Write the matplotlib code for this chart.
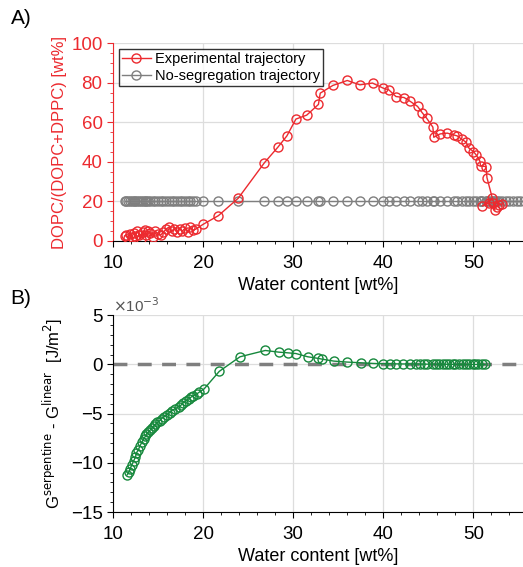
import matplotlib.pyplot as plt
import numpy as np

plt.rcParams['font.family'] = ['Liberation Sans', 'DejaVu Sans']

# panel A: experimental trajectory (water wt%, DOPC fraction wt%)
water_exp = [11.3, 11.5, 11.7, 11.9, 12.1, 12.3, 12.5, 12.7, 12.9, 13.1, 13.3, 13.5,
             13.7, 13.9, 14.1, 14.4, 14.7, 15.0, 15.3, 15.6, 15.9, 16.2, 16.5, 16.8,
             17.1, 17.4, 17.7, 18.0, 18.3, 18.6, 18.9, 19.2, 20.0, 21.7, 23.9, 26.8,
             28.3, 29.3, 30.3, 31.5, 32.8, 33.0, 34.4, 36.0, 37.4, 38.8, 40.0, 40.6,
             41.4, 42.3, 43.0, 43.8, 44.3, 44.8, 45.5, 45.6, 46.3, 47.1, 47.8, 48.2,
             48.7, 49.2, 49.5, 50.0, 50.3, 50.7, 50.8, 51.4, 51.5, 52.1, 51.0, 51.7,
             52.4, 52.2, 52.6, 52.8, 53.2]
dopc_exp = [2.5, 3.0, 1.5, 3.5, 2.0, 4.0, 2.5, 5.0, 3.0, 1.0, 4.5, 5.5,
            3.0, 5.0, 4.0, 2.0, 5.0, 3.5, 3.0, 4.5, 6.0, 7.0, 5.0, 6.0,
            4.5, 6.0, 5.0, 6.5, 4.5, 7.0, 5.5, 6.0, 8.4, 12.8, 21.6, 39.5,
            47.4, 53.1, 61.6, 63.6, 69.0, 74.7, 78.6, 81.1, 78.9, 79.8, 77.2, 76.4,
            73.0, 72.5, 70.5, 68.0, 64.9, 62.1, 57.5, 52.4, 54.1, 54.5, 53.6, 53.1,
            51.4, 49.9, 46.9, 45.2, 43.5, 40.5, 37.9, 37.6, 32.0, 21.6, 17.7, 19.1,
            15.7, 19.4, 17.4, 18.2, 18.7]

# panel A: no-segregation trajectory
water_noseg = sorted(water_exp + [53.6, 54.0, 54.4, 54.8, 55.2, 55.6])
dopc_noseg = [20.0] * len(water_noseg)

# panel B: energy difference (x 1e-3 J/m^2)
water_g = [11.6, 11.8, 11.9, 12.1, 12.3, 12.5, 12.6, 12.8, 13.0, 13.2, 13.4, 13.6,
           13.7, 13.9, 14.1, 14.3, 14.5, 14.7, 14.9, 15.2, 15.4, 15.7, 16.0, 16.3,
           16.5, 16.9, 17.3, 17.6, 17.8, 18.1, 18.4, 18.7, 18.9, 19.3, 19.6, 20.1,
           21.8, 24.1, 26.9, 28.4, 29.4, 30.3, 31.6, 32.8, 33.2, 34.5, 36.0, 37.5,
           38.9, 40.0, 40.7, 41.4, 42.2, 43.0, 43.6, 44.1, 44.5, 44.9, 45.5, 45.9,
           46.2, 46.6, 47.0, 47.3, 47.7, 48.0, 48.4, 48.8, 49.2, 49.5, 49.9, 50.2,
           50.5, 50.9, 51.3]
dg = [-11.2, -10.9, -10.6, -10.2, -9.8, -9.4, -9.0, -8.7, -8.3, -7.9, -7.6, -7.3,
      -7.1, -6.9, -6.7, -6.5, -6.3, -6.1, -5.9, -5.7, -5.5, -5.3, -5.1, -4.9,
      -4.7, -4.5, -4.3, -4.1, -3.9, -3.7, -3.5, -3.3, -3.2, -3.0, -2.8, -2.5,
      -0.7, 0.78, 1.42, 1.25, 1.18, 1.11, 0.78, 0.61, 0.54, 0.34, 0.24, 0.17,
      0.10, 0.07, 0.07, 0.06, 0.05, 0.05, 0.04, 0.04, 0.03, 0.03, 0.03, 0.02,
      0.02, 0.02, 0.02, 0.01, 0.01, 0.01, 0.01, 0.01, 0.0, 0.0, 0.0, 0.0,
      0.0, 0.0, 0.0]

red = '#ec2a2f'
grey = '#7f7f7f'
green = '#16883c'

fig = plt.figure(figsize=(5.23, 5.67), dpi=100)
ax1 = fig.add_axes([0.216, 0.575, 0.784, 0.349])
ax2 = fig.add_axes([0.216, 0.097, 0.784, 0.347])

mk = dict(marker='o', markersize=6.5, markerfacecolor='none', markeredgewidth=1.0, linewidth=1.0)
ax1.plot(water_exp, dopc_exp, color=red, label='Experimental trajectory', zorder=3, **mk)
ax1.plot(water_noseg, dopc_noseg, color=grey, label='No-segregation trajectory', zorder=2, **mk)
ax1.set_ylim(0, 100)
ax1.set_yticks([0, 20, 40, 60, 80, 100])
ax1.set_yticks(np.arange(0, 101, 5), minor=True)
ax1.set_ylabel('DOPC/(DOPC+DPPC) [wt%]', color=red, fontsize=12, labelpad=3)
ax1.spines['left'].set_color(red)
ax1.tick_params(axis='y', which='both', colors=red)
ax1.tick_params(axis='y', labelcolor=red)
leg = ax1.legend(loc='upper left', fontsize=10.5, frameon=True, fancybox=False,
                 edgecolor='black', borderpad=0.2, handlelength=2.0, handletextpad=0.3,
                 labelspacing=0.2, borderaxespad=0.4)
leg.get_frame().set_linewidth(1.0)

ax2.axhline(0, color=grey, linestyle=(0, (4, 3)), linewidth=2.5, zorder=1)
ax2.plot(water_g, dg, color=green, zorder=3, **mk)
ax2.set_ylim(-15, 5)
ax2.set_yticks([-15, -10, -5, 0, 5])
ax2.set_yticks(np.arange(-15, 5.1, 1), minor=True)
ax2.set_ylabel('G$^{\\mathrm{serpentine}}$ - G$^{\\mathrm{linear}}$  [J/m$^2$]', fontsize=12)
ax2.text(0.0, 1.0, '$\\times$10$^{-3}$', transform=ax2.transAxes, fontsize=11,
         ha='left', va='bottom', color='#555555')

for ax in (ax1, ax2):
    ax.set_xlim(10, 55.5)
    ax.set_xticks([10, 20, 30, 40, 50])
    ax.set_xticks(np.arange(10, 56, 2), minor=True)
    ax.set_xlabel('Water content [wt%]', fontsize=13, labelpad=4)
    ax.spines['top'].set_visible(False)
    ax.spines['right'].set_visible(False)
    ax.grid(True, which='major', color='#dddddd', linewidth=0.9)
    ax.set_axisbelow(True)
    ax.tick_params(which='major', direction='out', length=4, labelsize=13.5)
    ax.tick_params(axis='x', which='major', pad=6)
    ax.tick_params(which='minor', direction='out', length=2.5)

fig.text(0.02, 0.985, 'A)', fontsize=15, ha='left', va='top')
fig.text(0.02, 0.49, 'B)', fontsize=15, ha='left', va='top')

fig.savefig('out.png', dpi=100)
